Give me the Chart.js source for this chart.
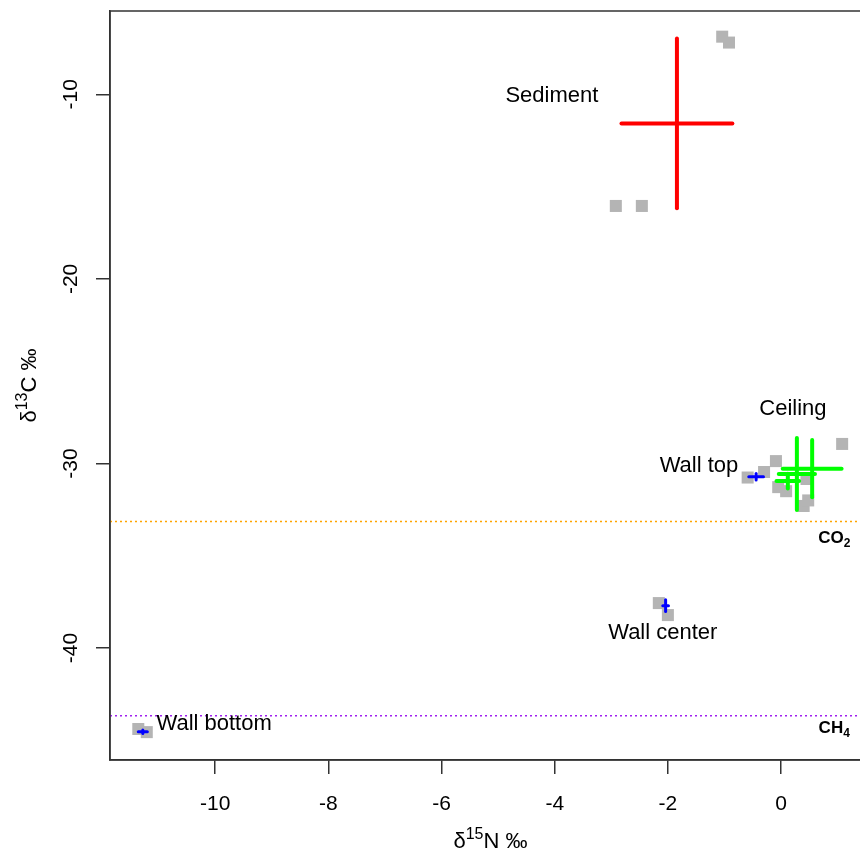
<!DOCTYPE html>
<html>
<head>
<meta charset="utf-8">
<script src="https://cdn.jsdelivr.net/npm/chart.js@4/dist/chart.umd.min.js"></script>
<style>
html, body { margin: 0; padding: 0; background: #fff; overflow: hidden; }
#wrap { position: relative; width: 900px; height: 855px; }
</style>
</head>
<body>
<div id="wrap"><canvas id="c" width="900" height="855"></canvas></div>
<script>
// axis limits and ticks
const xMin = -11.86, xMax = 1.59;
const yMin = -46.06, yMax = -5.49;
const xTicks = [-10, -8, -6, -4, -2, 0];
const yTicks = [-10, -20, -30, -40];

// raw samples (grey squares)
const sampleN = [-2.92, -2.46, -1.04, -0.92,
                 1.08, -0.09, -0.05, 0.09, 0.45, 0.40, 0.48,
                 -0.59, -0.30,
                 -2.16, -2.00,
                 -11.36, -11.21];
const sampleC = [-16.05, -16.05, -6.88, -7.20,
                 -28.94, -29.87, -31.28, -31.50, -30.84, -32.30, -32.00,
                 -30.76, -30.46,
                 -37.56, -38.21,
                 -44.38, -44.55];

// group means +/- sd (crosses)
const meanN = [-1.84, 0.55, 0.28, 0.12, -0.44, -2.04, -11.28];
const meanC = [-11.58, -30.28, -30.57, -30.95, -30.72, -37.70, -44.53];
const sdN   = [0.98, 0.52, 0.32, 0.20, 0.13, 0.05, 0.08];
const sdC   = [4.60, 1.55, 1.95, 0.40, 0.18, 0.32, 0.10];
const groupColors = ['#ff0000', '#00ff00', '#00ff00', '#00ff00', '#0000ff', '#0000ff', '#0000ff'];

// text labels
const labelText = ['Sediment', 'Ceiling', 'Wall top', 'Wall center', 'Wall bottom'];
const labelN = [-4.05, 0.21, -1.45, -2.09, -10.02];
const labelC = [-10.1, -27.05, -30.14, -39.2, -44.1];

// reference lines
const refBase = ['CO', 'CH'];
const refSub = ['2', '4'];
const refC = [-33.14, -43.66];
const refColors = ['#ffa500', '#a020f0'];
const refLabelN = 0.94;
const refLabelC = [-33.98, -44.27];

const FONT = '"Liberation Sans", Arial, sans-serif';

const datasets = [];
datasets.push({
    data: sampleN.map((n, i) => ({ x: n, y: sampleC[i] })),
    pointStyle: 'rect', pointRadius: 8.5, pointBackgroundColor: '#b4b4b4',
    pointBorderWidth: 0, showLine: false, order: 10
});
refC.forEach((c, i) => datasets.push({
    data: [{ x: xMin, y: c }, { x: xMax, y: c }],
    showLine: true, pointRadius: 0, borderColor: refColors[i], borderWidth: 1.5,
    borderDash: [2, 3], order: 5
}));
meanN.forEach((m, i) => {
    const w = groupColors[i] === '#0000ff' ? 3 : 4;
    const common = { showLine: true, pointRadius: 0, borderColor: groupColors[i], borderWidth: w, borderCapStyle: 'round', order: 1 };
    datasets.push({ ...common, data: [{ x: m - sdN[i], y: meanC[i] }, { x: m + sdN[i], y: meanC[i] }] });
    datasets.push({ ...common, data: [{ x: m, y: meanC[i] - sdC[i] }, { x: m, y: meanC[i] + sdC[i] }] });
});

function drawParts(ctx, parts, cx, baseline) {
    // parts: [text, font, dy]
    let total = 0;
    parts.forEach(p => { ctx.font = p[1]; total += ctx.measureText(p[0]).width; });
    let x = cx - total / 2;
    ctx.textAlign = 'left';
    ctx.textBaseline = 'alphabetic';
    parts.forEach(p => { ctx.font = p[1]; ctx.fillText(p[0], x, baseline + p[2]); x += ctx.measureText(p[0]).width; });
}

const decor = {
    id: 'decor',
    afterDraw(chart) {
        const { ctx, chartArea: a, scales: { x, y } } = chart;
        ctx.save();
        ctx.strokeStyle = '#333';
        ctx.lineWidth = 1.5;
        ctx.strokeRect(a.left, a.top, a.right - a.left, a.bottom - a.top);

        ctx.fillStyle = '#000';
        // y tick labels, rotated like R
        ctx.font = '21px ' + FONT;
        ctx.textAlign = 'center';
        ctx.textBaseline = 'alphabetic';
        yTicks.forEach(v => {
            ctx.save();
            ctx.translate(77, y.getPixelForValue(v));
            ctx.rotate(-Math.PI / 2);
            ctx.fillText(String(v), 0, 0);
            ctx.restore();
        });

        // axis titles
        const big = '22px ' + FONT, sup = '16px ' + FONT;
        drawParts(ctx, [['\u03b4', big, 0], ['15', sup, -9], ['N \u2030', big, 0]], (a.left + a.right) / 2, 848);
        ctx.save();
        ctx.translate(36, (a.top + a.bottom) / 2);
        ctx.rotate(-Math.PI / 2);
        drawParts(ctx, [['\u03b4', big, 0], ['13', sup, -9], ['C \u2030', big, 0]], 0, 0);
        ctx.restore();

        // group labels
        ctx.font = '22px ' + FONT;
        ctx.textAlign = 'center';
        ctx.textBaseline = 'middle';
        labelText.forEach((t, i) => ctx.fillText(t, x.getPixelForValue(labelN[i]), y.getPixelForValue(labelC[i])));

        // reference line labels
        refBase.forEach((t, i) => {
            drawParts(ctx, [[t, 'bold 17px ' + FONT, 0], [refSub[i], 'bold 12px ' + FONT, 4]],
                x.getPixelForValue(refLabelN), y.getPixelForValue(refLabelC[i]) + 6);
        });
        ctx.restore();
    }
};

new Chart(document.getElementById('c'), {
    type: 'scatter',
    data: { datasets },
    plugins: [decor],
    options: {
        responsive: false,
        animation: false,
        layout: { padding: { top: 11, right: 29, left: 0, bottom: 0 } },
        plugins: { legend: { display: false }, tooltip: { enabled: false } },
        scales: {
            x: {
                type: 'linear', min: xMin, max: xMax,
                afterBuildTicks: s => { s.ticks = xTicks.map(v => ({ value: v })); },
                afterFit: s => { s.height = 95; },
                grid: { drawOnChartArea: false, drawTicks: true, tickLength: 14, color: '#333', lineWidth: 1.5 },
                border: { display: true, color: '#333', width: 1.5 },
                ticks: { color: '#000', font: { size: 21, family: FONT }, padding: 18, callback: v => String(v) }
            },
            y: {
                type: 'linear', min: yMin, max: yMax,
                afterBuildTicks: s => { s.ticks = yTicks.map(v => ({ value: v })); },
                afterFit: s => { s.width = 110; },
                grid: { drawOnChartArea: false, drawTicks: true, tickLength: 14, color: '#333', lineWidth: 1.5 },
                border: { display: true, color: '#333', width: 1.5 },
                ticks: { display: false }
            }
        }
    }
});
</script>
</body>
</html>
